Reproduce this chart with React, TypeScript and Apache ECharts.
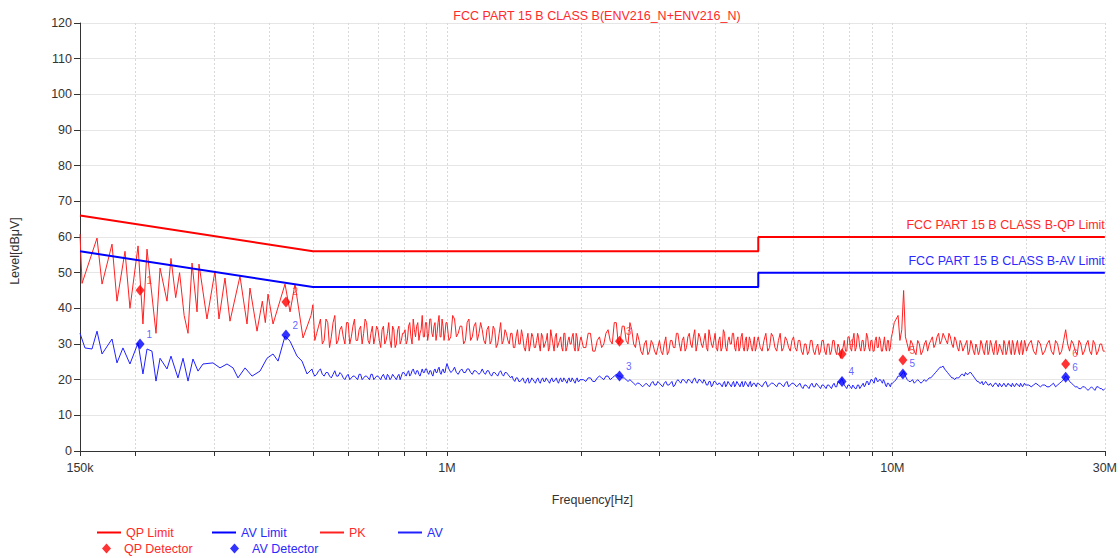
import React, { useEffect, useRef } from 'react';
import * as echarts from 'echarts';

const FONT = '"Liberation Sans", Arial, Helvetica, sans-serif';
const RED = '#ff0000';
const BLUE = '#0000ff';
const RED_T = '#ff2a2a';
const BLUE_T = '#2a2aff';

const TITLE = 'FCC PART 15 B CLASS B(ENV216_N+ENV216_N)';
const QP_LIMIT_LABEL = 'FCC PART 15 B CLASS B-QP Limit';
const AV_LIMIT_LABEL = 'FCC PART 15 B CLASS B-AV Limit';

// x axis ticks (MHz)
const xTickF = [0.15, 0.2, 0.3, 0.4, 0.5, 0.6, 0.7, 0.8, 0.9, 1, 2, 3, 4, 5, 6, 7, 8, 9, 10, 20, 30];
const xLabelF = [0.15, 1, 10, 30];
const xLabelText = ['150k', '1M', '10M', '30M'];

// limit lines (MHz, dBuV)
const limitF = [0.15, 0.5, 5, 5, 30];
const qpLimitV = [66, 56, 56, 60, 60];
const avLimitV = [56, 46, 46, 50, 50];

// detector markers
const markF = [0.2046, 0.435, 2.44, 7.71, 10.56, 24.5];
const qpMarkV = [45.1, 41.8, 30.8, 27.2, 25.5, 24.4];
const avMarkV = [30.0, 32.5, 21.0, 19.5, 21.6, 20.7];

// PK trace, low frequency part
const pkLowF = [0.150, 0.1516, 0.1638, 0.1681, 0.1770, 0.1816, 0.1893, 0.1942, 0.2025, 0.2077, 0.2121, 0.2222, 0.2269, 0.2352, 0.2401, 0.2460, 0.2510, 0.2570, 0.2622, 0.2677, 0.2747, 0.2775, 0.2892, 0.3014, 0.3077, 0.3174, 0.3257, 0.3430, 0.3557, 0.3612, 0.3746, 0.3850, 0.3910, 0.3965, 0.4069, 0.4329, 0.4443, 0.4559, 0.4751, 0.4952];
const pkLowV = [60.8, 47, 59.7, 46.8, 58, 42, 56, 40, 57.5, 35.6, 56.6, 33, 51.3, 42, 54, 43, 50, 38, 33, 52.7, 39, 52.4, 37, 50.5, 37, 48.5, 36.4, 49, 35.6, 45.7, 33.6, 42, 36, 44, 35.6, 46.8, 39, 46.8, 31.7, 38];

// AV trace, low frequency part
const avLowF = [0.150, 0.1539, 0.1596, 0.1638, 0.1681, 0.1770, 0.1816, 0.1873, 0.1942, 0.2025, 0.2077, 0.2121, 0.2176, 0.2222, 0.2269, 0.2352, 0.2401, 0.2489, 0.2555, 0.2622, 0.2690, 0.2761, 0.2833, 0.2983, 0.3093, 0.3207, 0.3309, 0.3395, 0.3521, 0.3651, 0.3804, 0.3944, 0.4069, 0.4176, 0.4329, 0.4443, 0.4606, 0.4727, 0.4851, 0.4977];
const avLowV = [33, 28.9, 28.6, 33.6, 27.2, 31.4, 24.7, 28.9, 24.4, 30.3, 21.6, 28.6, 28, 19.6, 26, 23, 26.6, 20.5, 26, 19.6, 25.8, 22.4, 24.4, 24.7, 23.3, 24.4, 23.3, 20.5, 23.3, 21, 22.4, 26, 27.2, 25.2, 32.2, 30.8, 26.6, 25.2, 21.6, 23];

// noise floor part, main sample grid (MHz)
const noiseF = [
  0.50, 0.51, 0.52, 0.53, 0.54, 0.55, 0.56, 0.57, 0.58, 0.59,
  0.60, 0.61, 0.62, 0.63, 0.64, 0.65, 0.66, 0.67, 0.68, 0.69,
  0.70, 0.71, 0.72, 0.73, 0.74, 0.75, 0.76, 0.77, 0.78, 0.79,
  0.80, 0.81, 0.82, 0.83, 0.84, 0.85, 0.86, 0.87, 0.88, 0.89,
  0.90, 0.91, 0.92, 0.93, 0.94, 0.95, 0.96, 0.97, 0.98, 0.99,
  1.00, 1.02, 1.04, 1.06, 1.08, 1.10, 1.12, 1.14, 1.16, 1.18,
  1.20, 1.22, 1.24, 1.26, 1.28, 1.30, 1.32, 1.34, 1.36, 1.38,
  1.40, 1.42, 1.44, 1.46, 1.48, 1.50, 1.52, 1.54, 1.56, 1.58,
  1.60, 1.62, 1.64, 1.66, 1.68, 1.70, 1.72, 1.74, 1.76, 1.78,
  1.80, 1.82, 1.84, 1.86, 1.88, 1.90, 1.92, 1.94, 1.96, 1.98,
  2.00, 2.05, 2.10, 2.15, 2.20, 2.25, 2.30, 2.35, 2.40, 2.45,
  2.50, 2.55, 2.60, 2.65, 2.70, 2.75, 2.80, 2.85, 2.90, 2.95,
  3.00, 3.05, 3.10, 3.15, 3.20, 3.25, 3.30, 3.35, 3.40, 3.45,
  3.50, 3.55, 3.60, 3.65, 3.70, 3.75, 3.80, 3.85, 3.90, 3.95,
  4.00, 4.05, 4.10, 4.15, 4.20, 4.25, 4.30, 4.35, 4.40, 4.45,
  4.50, 4.55, 4.60, 4.65, 4.70, 4.75, 4.80, 4.85, 4.90, 4.95,
  5.0, 5.1, 5.2, 5.3, 5.4, 5.5, 5.6, 5.7, 5.8, 5.9,
  6.0, 6.1, 6.2, 6.3, 6.4, 6.5, 6.6, 6.7, 6.8, 6.9,
  7.0, 7.1, 7.2, 7.3, 7.4, 7.5, 7.6, 7.7, 7.8, 7.9,
  8.0, 8.1, 8.2, 8.3, 8.4, 8.5, 8.6, 8.7, 8.8, 8.9,
  9.0, 9.1, 9.2, 9.3, 9.4, 9.5, 9.6, 9.7, 9.8, 9.9,
  10.0, 10.2, 10.4, 10.6, 10.8, 11.0, 11.2, 11.4, 11.6, 11.8,
  12.0, 12.2, 12.4, 12.6, 12.8, 13.0, 13.2, 13.4, 13.6, 13.8,
  14.0, 14.2, 14.4, 14.6, 14.8, 15.0, 15.2, 15.4, 15.6, 15.8,
  16.0, 16.2, 16.4, 16.6, 16.8, 17.0, 17.2, 17.4, 17.6, 17.8,
  18.0, 18.2, 18.4, 18.6, 18.8, 19.0, 19.2, 19.4, 19.6, 19.8,
  20, 20.5, 21, 21.5, 22, 22.5, 23, 23.5, 24, 24.5,
  25, 25.5, 26, 26.5, 27, 27.5, 28, 28.5, 29, 29.5, 30,
];

const pkNoiseV = [
  41, 33, 37, 31, 36, 32, 38, 31, 35, 30,
  36, 32, 37, 31, 35, 33, 36, 30, 35, 32,
  34, 29, 35, 31, 36, 29, 34, 30, 35, 31,
  33, 30, 35, 32, 37, 32, 36, 33, 38, 32,
  36, 33, 37, 32, 36, 33, 38, 32, 35, 33,
  36, 32, 37, 33, 35, 31, 37, 32, 36, 33,
  34, 30, 35, 31, 34, 30, 36, 31, 33, 30,
  33, 29, 34, 30, 32, 28, 33, 30, 32, 29,
  33, 28, 32, 30, 33, 29, 32, 28, 33, 30,
  32, 28, 33, 29, 32, 30, 33, 28, 32, 29,
  32, 29, 33, 28, 32, 30, 34, 30, 36, 31,
  35, 30, 34, 29, 31, 27, 31, 28, 30, 27,
  31, 27, 32, 28, 31, 29, 33, 28, 32, 29,
  33, 29, 34, 30, 32, 29, 33, 28, 32, 29,
  33, 28, 32, 29, 33, 28, 32, 30, 33, 28,
  32, 29, 33, 28, 32, 29, 31, 28, 32, 29,
  32, 28, 33, 29, 32, 28, 33, 29, 31, 28,
  32, 28, 31, 27, 30, 28, 31, 27, 30, 28,
  31, 27, 30, 28, 31, 27, 29, 28, 31, 28,
  32, 28, 33, 29, 32, 28, 31, 29, 32, 28,
  31, 28, 32, 29, 31, 28, 32, 28, 31, 29,
  33, 37, 31, 45, 30, 31, 28, 31, 27, 30,
  28, 31, 29, 32, 30, 33, 31, 33, 30, 32,
  29, 31, 28, 30, 27, 31, 28, 30, 27, 31,
  28, 30, 27, 31, 28, 30, 27, 30, 28, 31,
  27, 30, 28, 31, 27, 30, 28, 30, 27, 31,
  28, 31, 27, 30, 28, 31, 27, 30, 28, 34,
  28, 30, 27, 30, 28, 31, 27, 30, 28, 30, 28,
];

const avNoiseV = [
  22, 21.5, 23, 21, 22, 20.5, 22.5, 21, 21.5, 20,
  21.5, 20.5, 21, 20, 21.5, 20.5, 21, 20, 21.5, 20.5,
  21, 20, 21.5, 20, 21, 20.5, 21, 20, 21.5, 21,
  22, 21, 22.5, 21.5, 23, 21.5, 22.5, 21, 23, 22,
  23, 21.5, 22.5, 21, 23, 22, 23.5, 21.5, 23, 22,
  24.5, 22, 23.5, 21.5, 23, 22, 23, 21.5, 22.5, 21.5,
  23, 21.5, 22.5, 21, 22, 21, 22.5, 21, 22, 21,
  21, 19.5, 20.5, 19.5, 20.5, 19, 20.5, 19.5, 20, 19,
  20.5, 19, 20.5, 19.5, 20, 19, 20.5, 19.5, 20.5, 19,
  20.5, 19.5, 20, 19, 20.5, 19.5, 20, 19, 20.5, 19.5,
  20, 19.5, 20.5, 19.5, 21, 20, 21, 20.5, 21.5, 21,
  20.5, 19.5, 19.5, 18.5, 19, 18, 19, 18, 19.5, 18.5,
  19, 18, 19.5, 18.5, 19.5, 18.5, 20, 19, 20, 19,
  20, 19, 20.5, 19, 20, 19, 19.5, 18.5, 19.5, 18.5,
  19.5, 18.5, 19, 18, 19.5, 18.5, 19, 18, 19.5, 18.5,
  19, 18, 19.5, 18.5, 19, 18, 19.5, 18.5, 19, 18,
  19, 18, 19.5, 18.5, 19, 18, 19, 18, 19.5, 18.5,
  19, 18, 19, 17.5, 18.5, 17.5, 19, 18, 18.5, 17.5,
  18.5, 17.5, 18.5, 17.5, 19, 18, 19, 20.3, 18.5, 17.5,
  18.5, 17.5, 18, 17.5, 18.5, 18, 19, 18.5, 19.5, 19,
  20, 19, 20.5, 19.5, 20, 19, 19.5, 18, 19, 18,
  19, 20, 21, 22.4, 20, 19.5, 19, 20, 19, 20,
  20, 20.5, 21.5, 22.5, 23.5, 23.8, 22.5, 21.5, 20.5, 20,
  20.5, 21, 21.5, 22, 21.5, 22, 21, 20, 19.5, 19,
  18.5, 19.5, 18.5, 19, 18, 19, 18.5, 19, 18, 19,
  18, 19, 18.5, 19, 18, 19, 18.5, 19, 18, 19,
  18.5, 18, 19, 18, 18.5, 18, 19, 18.5, 19.5, 21,
  19.5, 18.5, 18, 17.5, 18, 17, 18, 17, 18, 17.5, 17.5,
];

// noise floor part, in-between sample grid (MHz)
const noiseMidF = [
  0.505, 0.515, 0.525, 0.535, 0.545, 0.555, 0.565, 0.575, 0.585, 0.595,
  0.605, 0.615, 0.625, 0.635, 0.645, 0.655, 0.665, 0.675, 0.685, 0.695,
  0.705, 0.715, 0.725, 0.735, 0.745, 0.755, 0.765, 0.775, 0.785, 0.795,
  0.805, 0.815, 0.825, 0.835, 0.845, 0.855, 0.865, 0.875, 0.885, 0.895,
  0.905, 0.915, 0.925, 0.935, 0.945, 0.955, 0.965, 0.975, 0.985, 0.995,
  1.01, 1.03, 1.05, 1.07, 1.09, 1.11, 1.13, 1.15, 1.17, 1.19,
  1.21, 1.23, 1.25, 1.27, 1.29, 1.31, 1.33, 1.35, 1.37, 1.39,
  1.41, 1.43, 1.45, 1.47, 1.49, 1.51, 1.53, 1.55, 1.57, 1.59,
  1.61, 1.63, 1.65, 1.67, 1.69, 1.71, 1.73, 1.75, 1.77, 1.79,
  1.81, 1.83, 1.85, 1.87, 1.89, 1.91, 1.93, 1.95, 1.97, 1.99,
  2.025, 2.075, 2.125, 2.175, 2.225, 2.275, 2.325, 2.375, 2.425, 2.475,
  2.525, 2.575, 2.625, 2.675, 2.725, 2.775, 2.825, 2.875, 2.925, 2.975,
  3.025, 3.075, 3.125, 3.175, 3.225, 3.275, 3.325, 3.375, 3.425, 3.475,
  3.525, 3.575, 3.625, 3.675, 3.725, 3.775, 3.825, 3.875, 3.925, 3.975,
  4.025, 4.075, 4.125, 4.175, 4.225, 4.275, 4.325, 4.375, 4.425, 4.475,
  4.525, 4.575, 4.625, 4.675, 4.725, 4.775, 4.825, 4.875, 4.925, 4.975,
  5.05, 5.15, 5.25, 5.35, 5.45, 5.55, 5.65, 5.75, 5.85, 5.95,
  6.05, 6.15, 6.25, 6.35, 6.45, 6.55, 6.65, 6.75, 6.85, 6.95,
  7.05, 7.15, 7.25, 7.35, 7.45, 7.55, 7.65, 7.75, 7.85, 7.95,
  8.05, 8.15, 8.25, 8.35, 8.45, 8.55, 8.65, 8.75, 8.85, 8.95,
  9.05, 9.15, 9.25, 9.35, 9.45, 9.55, 9.65, 9.75, 9.85, 9.95,
  10.1, 10.3, 10.5, 10.7, 10.9, 11.1, 11.3, 11.5, 11.7, 11.9,
  12.1, 12.3, 12.5, 12.7, 12.9, 13.1, 13.3, 13.5, 13.7, 13.9,
  14.1, 14.3, 14.5, 14.7, 14.9, 15.1, 15.3, 15.5, 15.7, 15.9,
  16.1, 16.3, 16.5, 16.7, 16.9, 17.1, 17.3, 17.5, 17.7, 17.9,
  18.1, 18.3, 18.5, 18.7, 18.9, 19.1, 19.3, 19.5, 19.7, 19.9,
  20.25, 20.75, 21.25, 21.75, 22.25, 22.75, 23.25, 23.75, 24.25, 24.75,
  25.25, 25.75, 26.25, 26.75, 27.25, 27.75, 28.25, 28.75, 29.25, 29.75,
];

const pkMidV = [
  31, 35, 30, 37, 29, 36, 30, 34, 32, 36,
  30, 35, 31, 34, 30, 37, 31, 33, 30, 35,
  31, 34, 30, 33, 31, 35, 29, 34, 30, 33,
  34, 31, 36, 30, 34, 35, 31, 34, 32, 36,
  31, 37, 33, 35, 31, 36, 32, 37, 31, 36,
  31, 38, 32, 35, 30, 36, 31, 35, 31, 36,
  31, 34, 30, 35, 29, 33, 30, 34, 31, 33,
  29, 32, 30, 34, 29, 31, 28, 33, 29, 31,
  30, 33, 29, 31, 28, 34, 30, 32, 29, 31,
  29, 33, 28, 31, 30, 32, 29, 33, 28, 31,
  29, 33, 28, 31, 29, 33, 31, 36, 30, 35,
  31, 36, 30, 33, 28, 30, 27, 31, 28, 29,
  28, 30, 27, 31, 29, 33, 30, 31, 28, 32,
  30, 32, 28, 33, 30, 31, 29, 34, 30, 31,
  29, 31, 28, 34, 29, 31, 30, 33, 29, 31,
  28, 32, 29, 31, 28, 32, 29, 30, 28, 31,
  29, 31, 28, 33, 29, 31, 28, 32, 29, 31,
  29, 31, 28, 30, 27, 31, 28, 29, 27, 31,
  28, 30, 27, 31, 28, 30, 26, 29, 28, 32,
  29, 31, 28, 33, 29, 31, 28, 33, 29, 31,
  28, 31, 29, 32, 28, 30, 29, 31, 28, 32,
  36, 38, 34, 32, 28, 30, 27, 30, 28, 31,
  30, 32, 30, 33, 31, 32, 30, 32, 29, 31,
  28, 30, 29, 31, 28, 30, 27, 29, 28, 30,
  27, 31, 28, 30, 27, 31, 28, 29, 27, 30,
  28, 31, 27, 30, 28, 31, 27, 31, 28, 30,
  30, 28, 31, 27, 30, 28, 31, 27, 31, 30,
  31, 28, 31, 27, 30, 28, 31, 27, 30, 28,
];

const avMidV = [
  21, 22.5, 21.5, 22, 21, 21.5, 21, 22, 20.5, 21,
  20, 21, 20.5, 21.5, 20, 21, 20.5, 21.5, 20, 21,
  20.5, 21, 20.5, 21.5, 20, 21.5, 20.5, 21, 20, 22,
  21.5, 22, 21, 22.5, 22, 22.5, 21.5, 22, 22, 23,
  22, 22.5, 21.5, 22.5, 22, 23, 22, 22.5, 22, 23.5,
  23, 22.5, 22, 22.5, 22, 23, 22, 22.5, 22, 22,
  22, 22.5, 21.5, 22, 21.5, 22, 21.5, 22, 21.5, 20.5,
  20, 20.5, 19.5, 20, 19.5, 20, 19, 20.5, 19.5, 20,
  19.5, 20, 19.5, 20.5, 19.5, 20, 19.5, 20, 19.5, 20,
  19.5, 20.5, 19.5, 20, 19.5, 20.5, 19.5, 20, 19.5, 20,
  20, 20.5, 19.5, 20.5, 20.5, 21, 20, 21, 21, 20.5,
  20, 20, 19, 19, 18.5, 18.5, 18.5, 19, 18.5, 19.5,
  18.5, 19, 18.5, 19, 18, 19.5, 19.5, 20, 19.5, 20,
  19.5, 20, 19.5, 20, 19.5, 20, 18.5, 19.5, 18, 19.5,
  19, 19, 18.5, 19, 18, 19.5, 18.5, 19, 18, 19.5,
  18.5, 19, 18, 19.5, 18.5, 19, 18, 19, 18.5, 19,
  18.5, 19, 18, 19, 18.5, 19, 18.5, 19, 18, 19,
  18.5, 18.5, 18, 18.5, 18, 18.5, 18, 19, 18, 18.5,
  18, 18.5, 18, 18.5, 18, 19.5, 19.5, 19.5, 18, 18.5,
  18, 18.5, 17.5, 18.5, 17.5, 18.5, 18, 19.5, 18.5, 20,
  19.5, 20.5, 19.5, 20, 19.5, 20, 18.5, 19, 18.5, 19,
  19.5, 21, 21.5, 21, 19.5, 20, 19.5, 19.5, 19.5, 19.5,
  20.5, 21, 22, 23, 23.5, 23, 22, 21, 20.5, 20.5,
  20.5, 21.5, 21, 21.5, 22, 21.5, 20.5, 19.5, 19, 19.5,
  19, 19, 18.5, 18.5, 18.5, 19, 18, 18.5, 18.5, 18.5,
  18.5, 18.5, 18, 18.5, 18.5, 18.5, 18, 18.5, 18.5, 18.5,
  18.5, 18.5, 18.5, 18.5, 18, 18.5, 18, 19, 20, 20.5,
  19, 18, 17.5, 18, 17.5, 17.5, 17.5, 18, 17.5, 17,
];

const lg = (mhz: number) => Math.log10(mhz * 1e6);
const X_MIN = lg(0.15);
const X_MAX = lg(30);

function buildOption() {
  const pts = (fs: number[], vs: number[]) =>
    fs.map((f, i) => [lg(f), vs[i]]).filter((p) => typeof p[1] === 'number');
  const merged = (a: number[][], b: number[][]) => [...a, ...b].sort((p, q) => p[0] - q[0]);
  const limitData = (vs: number[], text: string, color: string) =>
    limitF.map((f, i) => {
      const item: any = { value: [lg(f), vs[i]] };
      if (i === limitF.length - 1) {
        item.label = {
          show: true,
          formatter: text,
          position: 'top',
          align: 'right',
          distance: 5,
          color,
          fontSize: 12.5,
          fontFamily: FONT,
        };
      }
      return item;
    });

  const lineIcon = 'path://M0,0L24,0L24,2L0,2Z';
  const legendBase = (name: string, left: number, top: number, color: string, isLine: boolean) => ({
    data: [{ name, icon: isLine ? lineIcon : 'diamond' }],
    left,
    top,
    itemWidth: isLine ? 24 : 9,
    itemHeight: isLine ? 2 : 10,
    itemGap: 0,
    padding: 0,
    selectedMode: false,
    textStyle: {
      color,
      fontSize: 12.5,
      fontFamily: FONT,
      padding: isLine ? [0, 0, 0, 0] : [0, 0, 0, 8],
    },
  });

  const markerLabel = (color: string) => ({
    show: true,
    position: 'right',
    distance: 2,
    offset: [0, -10],
    formatter: (p: any) => String(p.dataIndex + 1),
    color,
    fontSize: 10,
    fontFamily: FONT,
  });

  return {
    animation: false,
    backgroundColor: '#ffffff',
    textStyle: { fontFamily: FONT },
    title: {
      text: TITLE,
      left: 592,
      textAlign: 'center',
      top: 4,
      textStyle: { color: RED_T, fontSize: 12.5, fontWeight: 'normal', fontFamily: FONT },
    },
    legend: [
      legendBase('QP Limit', 97, 526, RED_T, true),
      legendBase('AV Limit', 212, 526, BLUE_T, true),
      legendBase('PK', 320, 526, RED_T, true),
      legendBase('AV', 398, 526, BLUE_T, true),
      legendBase('QP Detector', 102, 542, RED_T, false),
      legendBase('AV Detector', 230, 542, BLUE_T, false),
    ],
    grid: { left: 80, right: 15, top: 23, bottom: 107, containLabel: false },
    xAxis: {
      type: 'value',
      min: X_MIN,
      max: X_MAX,
      name: 'Frequency[Hz]',
      nameLocation: 'middle',
      nameGap: 42,
      nameTextStyle: { color: '#333', fontSize: 12.5, fontFamily: FONT },
      axisLine: { show: true, lineStyle: { color: '#333', width: 1 } },
      axisTick: {
        show: true,
        length: 5,
        customValues: xTickF.map(lg),
        lineStyle: { color: '#333' },
      },
      axisLabel: {
        show: true,
        customValues: xLabelF.map(lg),
        margin: 10,
        color: '#333',
        fontSize: 12.5,
        fontFamily: FONT,
        hideOverlap: false,
        showMinLabel: true,
        showMaxLabel: true,
        formatter: (v: number) => {
          const i = xLabelF.findIndex((f) => Math.abs(lg(f) - v) < 1e-6);
          return i >= 0 ? xLabelText[i] : '';
        },
      },
      splitLine: { show: true, lineStyle: { color: '#d9d9d9', type: [2, 2], width: 1 } },
    },
    yAxis: {
      type: 'value',
      min: 0,
      max: 120,
      interval: 10,
      axisLine: { show: true, lineStyle: { color: '#333', width: 1 } },
      axisTick: { show: true, length: 6, lineStyle: { color: '#333' } },
      axisLabel: { color: '#333', fontSize: 12.5, fontFamily: FONT, margin: 8 },
      splitLine: { show: true, lineStyle: { color: '#e6e6e6', width: 1 } },
    },
    graphic: [
      {
        type: 'text',
        x: 15,
        y: 251,
        rotation: Math.PI / 2,
        style: {
          text: 'Level[dBμV]',
          fill: '#333',
          fontSize: 12.5,
          fontFamily: FONT,
          align: 'center',
          verticalAlign: 'middle',
        },
      },
    ],
    series: [
      {
        name: 'QP Limit',
        type: 'line',
        data: limitData(qpLimitV, QP_LIMIT_LABEL, RED_T),
        symbol: 'circle',
        symbolSize: 0.01,
        showSymbol: true,
        lineStyle: { color: RED, width: 2 },
        itemStyle: { color: RED },
        z: 3,
      },
      {
        name: 'AV Limit',
        type: 'line',
        data: limitData(avLimitV, AV_LIMIT_LABEL, BLUE_T),
        symbol: 'circle',
        symbolSize: 0.01,
        showSymbol: true,
        lineStyle: { color: BLUE, width: 2 },
        itemStyle: { color: BLUE },
        z: 3,
      },
      {
        name: 'PK',
        type: 'line',
        data: [...pts(pkLowF, pkLowV), ...merged(pts(noiseF, pkNoiseV), pts(noiseMidF, pkMidV))],
        symbol: 'none',
        lineStyle: { color: '#ff2020', width: 1 },
        itemStyle: { color: '#ff2020' },
        z: 2,
      },
      {
        name: 'AV',
        type: 'line',
        data: [...pts(avLowF, avLowV), ...merged(pts(noiseF, avNoiseV), pts(noiseMidF, avMidV))],
        symbol: 'none',
        lineStyle: { color: '#2020ff', width: 1 },
        itemStyle: { color: '#2020ff' },
        z: 2,
      },
      {
        name: 'QP Detector',
        type: 'scatter',
        data: pts(markF, qpMarkV),
        symbol: 'diamond',
        symbolSize: [9, 11],
        itemStyle: { color: RED },
        label: markerLabel(RED_T),
        z: 5,
      },
      {
        name: 'AV Detector',
        type: 'scatter',
        data: pts(markF, avMarkV),
        symbol: 'diamond',
        symbolSize: [9, 11],
        itemStyle: { color: BLUE },
        label: markerLabel('#3a3aff'),
        z: 5,
      },
    ],
  };
}

export default function App() {
  const ref = useRef<HTMLDivElement>(null);
  useEffect(() => {
    document.body.style.margin = '0';
    const chart = echarts.init(ref.current as HTMLDivElement, null, { renderer: 'svg' });
    chart.setOption(buildOption() as any);
    return () => chart.dispose();
  }, []);
  return <div ref={ref} style={{ width: 1120, height: 558 }} />;
}
